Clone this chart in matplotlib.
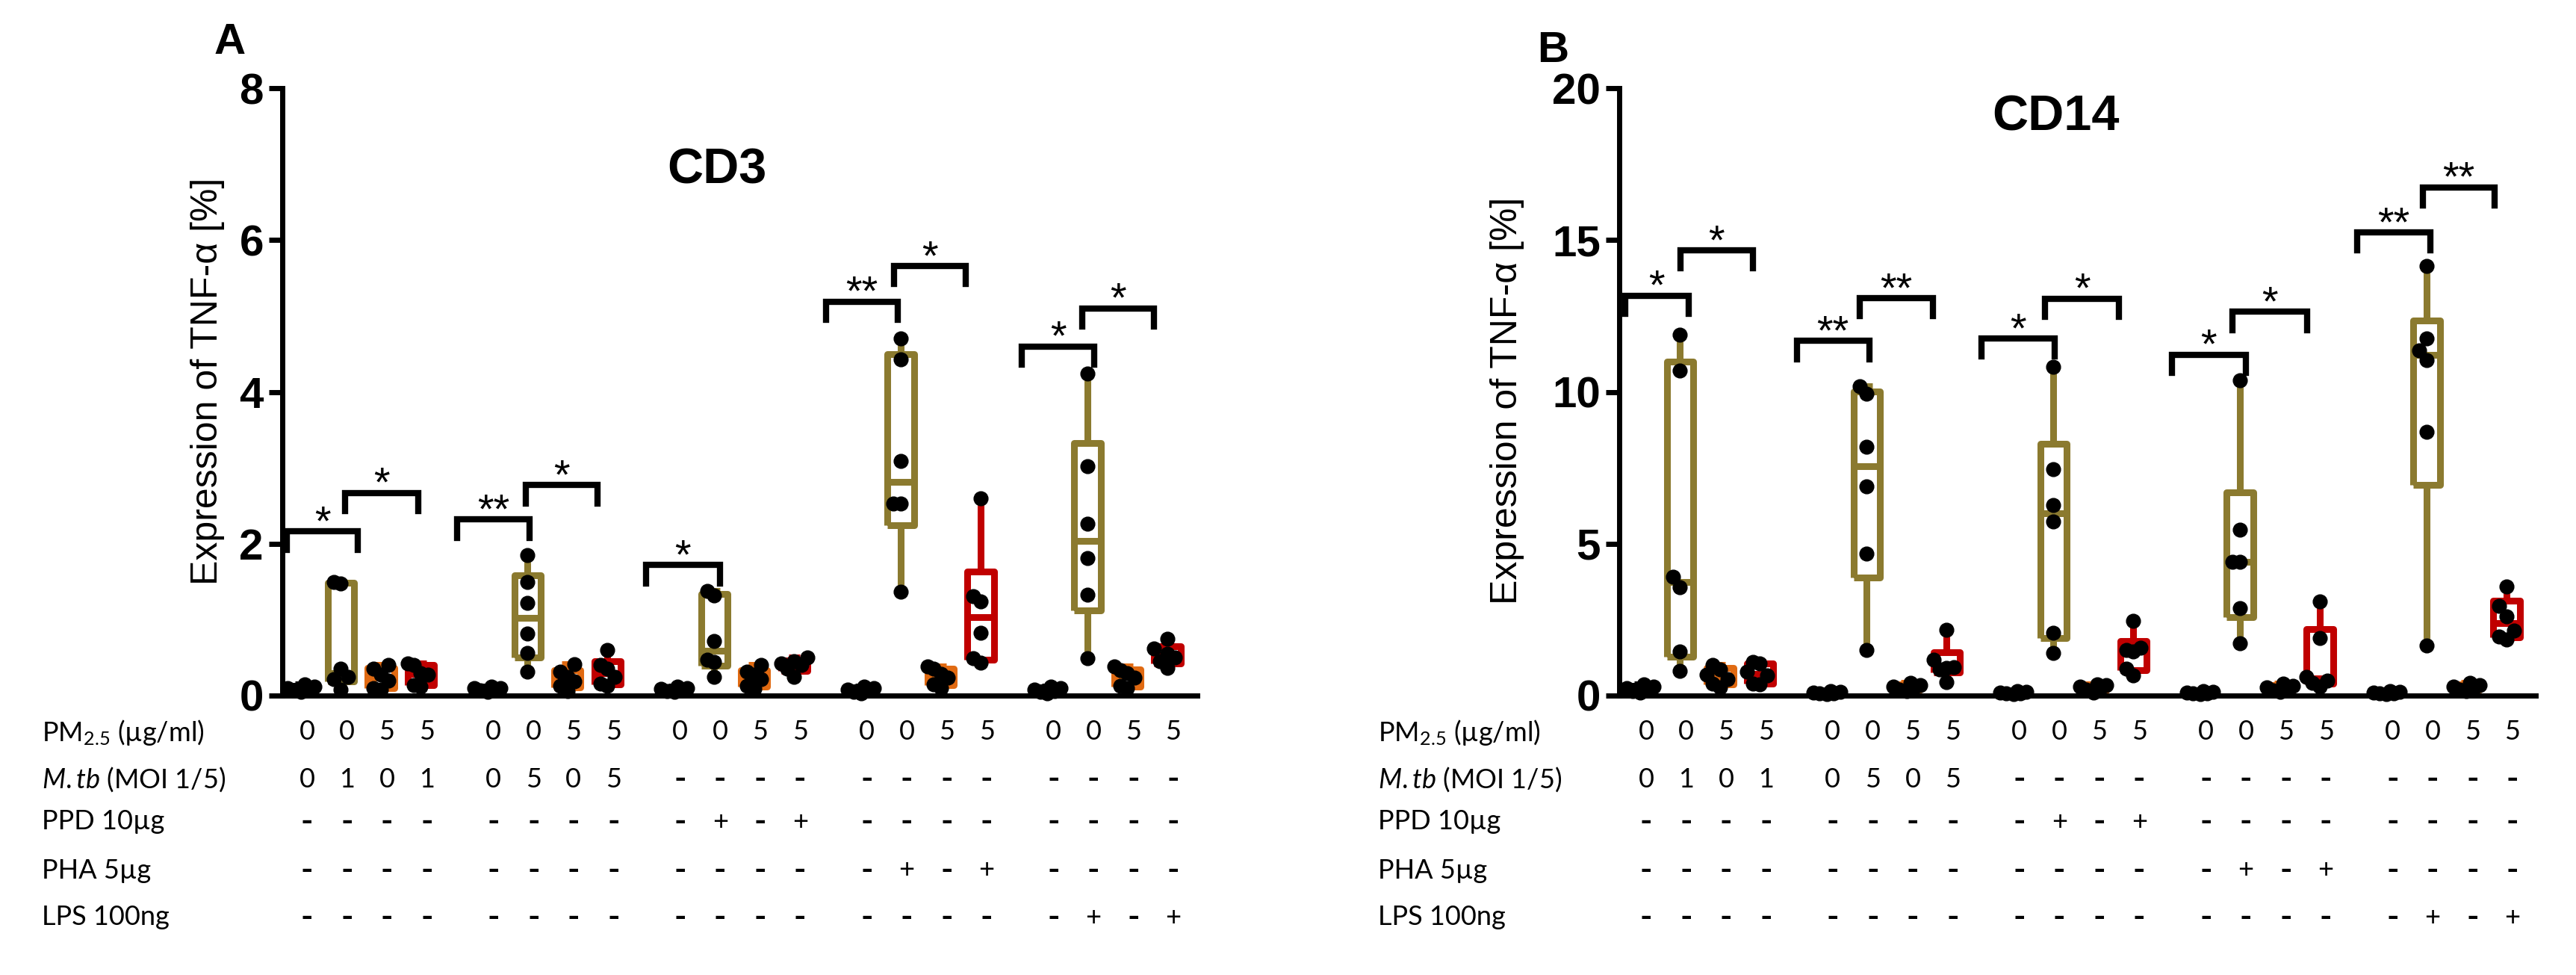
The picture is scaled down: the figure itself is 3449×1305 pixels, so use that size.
"""
TNF-alpha expression in CD3 and CD14 cells, box plots with the
treatment table under each panel.
"""

import numpy as np
import matplotlib
matplotlib.use('Agg')
import matplotlib.pyplot as plt
from matplotlib.transforms import blended_transform_factory

plt.rcParams['font.family'] = ['Liberation Sans', 'DejaVu Sans']
plt.rcParams['mathtext.fontset'] = 'custom'
plt.rcParams['mathtext.rm'] = 'Lato'
plt.rcParams['mathtext.it'] = 'Lato:italic'

# each group: medium, stimulus, PM2.5, PM2.5 + stimulus
cd3_g1 = [[0.05, 0.08, 0.10, 0.12, 0.15, 0.07],
          [0.08, 0.22, 0.25, 0.35, 1.48, 1.50],
          [0.08, 0.10, 0.20, 0.28, 0.35, 0.40],
          [0.12, 0.14, 0.28, 0.30, 0.40, 0.42]]
cd3_g2 = [[0.05, 0.07, 0.10, 0.12, 0.08, 0.10],
          [0.31, 0.56, 0.82, 1.22, 1.50, 1.85],
          [0.06, 0.13, 0.19, 0.25, 0.31, 0.41],
          [0.13, 0.16, 0.25, 0.35, 0.40, 0.60]]
cd3_g3 = [[0.05, 0.07, 0.10, 0.12, 0.09, 0.06],
          [0.25, 0.44, 0.47, 0.72, 1.32, 1.38],
          [0.09, 0.13, 0.22, 0.28, 0.31, 0.40],
          [0.25, 0.35, 0.40, 0.42, 0.45, 0.50]]
cd3_g4 = [[0.03, 0.05, 0.08, 0.10, 0.12, 0.07],
          [1.37, 2.53, 2.53, 3.09, 4.43, 4.70],
          [0.10, 0.15, 0.24, 0.29, 0.35, 0.38],
          [0.43, 0.49, 0.83, 1.24, 1.31, 2.60]]
cd3_g5 = [[0.03, 0.05, 0.08, 0.10, 0.12, 0.06],
          [0.49, 1.33, 1.81, 2.26, 3.02, 4.24],
          [0.10, 0.13, 0.24, 0.30, 0.33, 0.38],
          [0.36, 0.45, 0.50, 0.55, 0.62, 0.75]]

cd14_g1 = [[0.10, 0.15, 0.20, 0.25, 0.30, 0.38],
           [0.82, 1.44, 3.57, 3.92, 10.69, 11.88],
           [0.27, 0.40, 0.55, 0.70, 0.86, 1.02],
           [0.36, 0.40, 0.66, 0.78, 1.06, 1.10]]
cd14_g2 = [[0.05, 0.08, 0.10, 0.12, 0.15, 0.07],
           [1.49, 4.67, 6.90, 8.18, 9.95, 10.19],
           [0.15, 0.20, 0.25, 0.30, 0.35, 0.42],
           [0.44, 0.86, 0.90, 0.94, 1.18, 2.16]]
cd14_g3 = [[0.05, 0.08, 0.10, 0.12, 0.14, 0.07],
           [1.41, 2.07, 5.72, 6.27, 7.45, 10.82],
           [0.10, 0.20, 0.25, 0.30, 0.35, 0.38],
           [0.66, 0.88, 1.44, 1.51, 1.58, 2.47]]
cd14_g4 = [[0.05, 0.07, 0.10, 0.12, 0.15, 0.08],
           [1.71, 2.88, 4.41, 4.41, 5.47, 10.38],
           [0.12, 0.18, 0.22, 0.28, 0.33, 0.40],
           [0.30, 0.42, 0.50, 0.62, 1.90, 3.10]]
cd14_g5 = [[0.05, 0.07, 0.10, 0.12, 0.15, 0.08],
           [1.65, 8.69, 11.05, 11.37, 11.75, 14.15],
           [0.15, 0.20, 0.25, 0.30, 0.35, 0.42],
           [1.85, 1.95, 2.15, 2.60, 2.95, 3.60]]

# significance brackets (x in box slots, y in data units)
cd3_sig_left = [-0.36, 1.10, 3.90, 5.63, 8.63, 13.14, 14.84, 18.04, 19.55]
cd3_sig_right = [1.43, 2.93, 5.72, 7.42, 10.49, 14.94, 16.64, 19.85, 21.35]
cd3_sig_y = [2.16, 2.67, 2.32, 2.77, 1.72, 5.19, 5.66, 4.60, 5.10]
cd3_sig_text = ['*', '*', '**', '*', '*', '**', '*', '*', '*']

cd14_sig_left = [-0.37, 1.01, 3.92, 5.49, 8.54, 10.13, 13.30, 14.82, 17.94, 19.58]
cd14_sig_right = [1.21, 2.82, 5.73, 7.32, 10.37, 11.99, 15.15, 16.69, 19.78, 21.38]
cd14_sig_y = [13.17, 14.66, 11.68, 13.09, 11.76, 13.07, 11.23, 12.64, 15.25, 16.74]
cd14_sig_text = ['*', '*', '**', '**', '*', '*', '*', '*', '**', '**']

# treatment table under the x axis
row_labels = ['$\\mathregular{PM_{2.5}}$ (µg/ml)', '$\\mathit{M.tb}$ (MOI 1/5)',
              'PPD 10µg', 'PHA 5µg', 'LPS 100ng']
row_pm = [['0', '0', '5', '5']] * 5
row_mtb = [['0', '1', '0', '1'], ['0', '5', '0', '5'],
           ['-'] * 4, ['-'] * 4, ['-'] * 4]
row_ppd = [['-'] * 4, ['-'] * 4, ['-', '+', '-', '+'], ['-'] * 4, ['-'] * 4]
row_pha = [['-'] * 4, ['-'] * 4, ['-'] * 4, ['-', '+', '-', '+'], ['-'] * 4]
row_lps = [['-'] * 4, ['-'] * 4, ['-'] * 4, ['-'] * 4, ['-', '+', '-', '+']]

COLORS = ['black', '#8b7a2f', '#e06a12', '#c00000']
GROUP_STEP = 4.67
W, H = 3449, 1305


def spread(vals, thr):
    """Simple beeswarm offsets so that touching dots sit side by side."""
    lanes = [0, -0.18, 0.18, -0.33, 0.33, -0.09, 0.09]
    offs = np.zeros(len(vals))
    placed = []
    for i in np.argsort(vals):
        used = [o for v, o in placed if abs(v - vals[i]) < thr]
        lane = lanes[-1]
        for l in lanes:
            if all(abs(l - u) > 0.1 for u in used):
                lane = l
                break
        offs[i] = lane
        placed.append((vals[i], lane))
    return offs


def draw_panel(ax, groups, ymax, ystep, sig, xlim):
    thr = 0.18 * ymax / 8
    for g, grp in enumerate(groups):
        for j, vals in enumerate(grp):
            v = np.array(vals)
            x = g * GROUP_STEP + j
            c = COLORS[j]
            st = dict(med=np.median(v),
                      q1=np.percentile(v, 25, method='weibull'),
                      q3=np.percentile(v, 75, method='weibull'),
                      whislo=v.min(), whishi=v.max(), fliers=[])
            lp = dict(color=c, lw=6.5, solid_capstyle='butt')
            ax.bxp([st], positions=[x], widths=0.66, showfliers=False,
                   boxprops=lp, medianprops=lp, whiskerprops=lp, capprops=lp,
                   capwidths=0.28, manage_ticks=False, zorder=2)
            ax.plot(x + spread(v, thr), v, 'o', color='black', ms=13.5,
                    zorder=3, clip_on=False)

    leg = 0.03 * ymax
    for x1, x2, y, t in zip(*sig):
        ax.plot([x1, x1, x2, x2], [y - leg, y, y, y - leg], color='black',
                lw=6, solid_joinstyle='miter', zorder=4, clip_on=False)
        ax.annotate(t, ((x1 + x2) / 2, y), xytext=(0, -3), textcoords='offset points',
                    ha='center', va='baseline', fontsize=40)

    ax.set_xlim(*xlim)
    ax.set_ylim(0, ymax)
    ax.set_yticks(np.arange(0, ymax + 0.1, ystep))
    ax.set_xticks([])
    for s in ['top', 'right']:
        ax.spines[s].set_visible(False)
    for s in ['left', 'bottom']:
        ax.spines[s].set_linewidth(5)
    ax.tick_params(axis='y', length=13, width=5, pad=5, labelsize=42)
    for lab in ax.get_yticklabels():
        lab.set_fontweight('bold')


def draw_table(fig, ax, label_x):
    rows = [row_pm, row_mtb, row_ppd, row_pha, row_lps]
    row_y = [980, 1043, 1100, 1165, 1228]
    tr = blended_transform_factory(ax.transData, fig.transFigure)
    for r, (lab, cells) in enumerate(zip(row_labels, rows)):
        yf = 1 - row_y[r] / H
        fig.text(label_x / W, yf, lab, ha='left', va='center',
                 fontsize=26, family='Lato')
        for g, grp in enumerate(cells):
            for j, s in enumerate(grp):
                x = g * GROUP_STEP + j + 0.15
                if s == '-':
                    ax.text(x, yf, s, transform=tr, ha='center', va='center',
                            fontsize=32, family='Lato', fontweight='bold')
                else:
                    ax.text(x, yf, s, transform=tr, ha='center', va='center',
                            fontsize=26, family='Lato')


fig = plt.figure(figsize=(W / 100, H / 100), dpi=100)

axA = fig.add_axes([378 / W, 374 / H, 1225 / W, 813 / H])
draw_panel(axA, [cd3_g1, cd3_g2, cd3_g3, cd3_g4, cd3_g5], 8, 2,
           (cd3_sig_left, cd3_sig_right, cd3_sig_y, cd3_sig_text), (-0.467, 22.43))
axA.set_ylabel('Expression of TNF-α [%]', fontsize=36, va='center')
axA.yaxis.set_label_coords((278 - 378) / 1225, 0.518)
axA.text(0.475, 0.864, 'CD3', transform=axA.transAxes, ha='center', va='center',
         fontsize=48, fontweight='bold')
draw_table(fig, axA, 56)

axB = fig.add_axes([2168 / W, 374 / H, 1227 / W, 813 / H])
draw_panel(axB, [cd14_g1, cd14_g2, cd14_g3, cd14_g4, cd14_g5], 20, 5,
           (cd14_sig_left, cd14_sig_right, cd14_sig_y, cd14_sig_text), (-0.523, 22.41))
axB.set_ylabel('Expression of TNF-α [%]', fontsize=36, va='center')
axB.yaxis.set_label_coords((2018 - 2168) / 1227, 0.486)
axB.text(0.476, 0.952, 'CD14', transform=axB.transAxes, ha='center', va='center',
         fontsize=48, fontweight='bold')
draw_table(fig, axB, 1845)

fig.text(308 / W, 1 - 57 / H, 'A', ha='center', va='center', fontsize=42, fontweight='bold')
fig.text(2079 / W, 1 - 68 / H, 'B', ha='center', va='center', fontsize=42, fontweight='bold')

fig.savefig('out.png', dpi=100)
